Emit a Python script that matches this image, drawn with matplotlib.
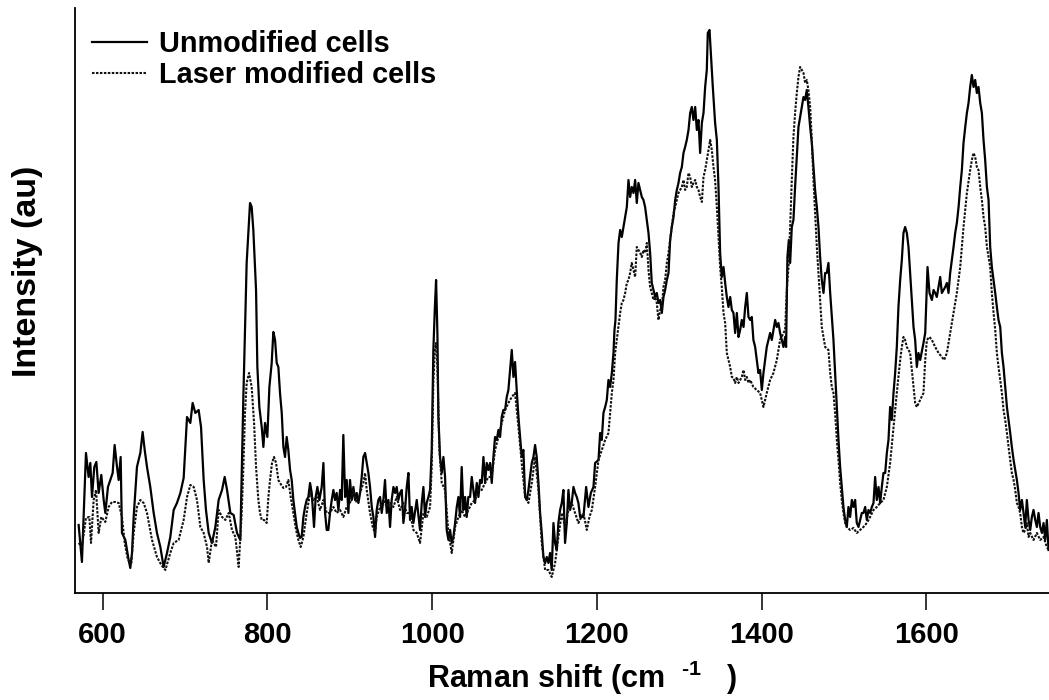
import matplotlib
matplotlib.use("Agg")
import matplotlib.pyplot as plt

plt.rcParams['font.family'] = ['Liberation Sans', 'DejaVu Sans']
plt.rcParams['font.weight'] = 'bold'
plt.rcParams['mathtext.fontset'] = 'custom'
plt.rcParams['mathtext.rm'] = 'Liberation Sans:bold'
plt.rcParams['mathtext.it'] = 'Liberation Sans:bold'
plt.rcParams['mathtext.bf'] = 'Liberation Sans:bold'

# ---- data: (Raman shift cm^-1, intensity au) ----
unmod_a = [(570.8,68),(574.8,31),(579.7,140),(582.9,116),(585.0,130),(587.0,96),(589.8,126),(592.3,131),(595.1,100),(598.3,118),
           (601.2,93),(603.2,80),(606.4,106),(609.3,113),(612.1,120),(614.5,148),(617.4,126),(619.4,113),(621.8,136),(623.4,60),
           (627.5,53),(631.5,33),(633.5,25),(635.6,40),(637.6,76),(641.6,126),(645.7,140),(648.5,161),(651.0,143),(653.8,126),
           (657.8,106),(661.9,80),(665.9,60),(670.0,46),(674.0,26),(678.1,40),(682.1,56),(686.2,83),(690.2,90),(694.3,100),
           (698.3,115),(702.4,176),(706.4,170),(709.2,190),(712.5,180),(716.5,183),(719.4,166),(722.6,113),(725.4,83),(728.7,60),
           (732.7,50),(736.8,66),(740.8,93),(744.9,103),(748.1,116),(751.0,103),(755.0,80),(759.0,78),(763.1,60),(767.1,53)]
unmod_b = [(770.8,196),(774.8,330),(778.9,390),(780.9,386),(782.9,363),(785.0,326),(786.2,303),(787.8,226),(790.2,186),(793.1,166),
           (795.1,146),(797.1,170),(799.9,156),(802.4,206),(805.2,230),(807.2,261),(809.3,253),(811.3,230),(813.3,226),(815.3,200),
           (817.4,180),(819.4,146),(821.4,136),(823.4,156),(825.4,143),(827.5,123),(829.5,113),(831.5,93),(833.5,80),(835.6,66),
           (837.6,60),(839.6,55),(841.6,56),(843.7,76),(845.7,86),(847.7,93),(849.7,96),(851.8,110),(853.8,100),(856.6,66),
           (858.6,96),(860.7,106),(863.1,93),(865.9,106),(868.0,130),(870.0,80),(872.0,63),(874.0,63),(876.0,80),(878.1,93),
           (880.1,103),(882.1,93),(884.1,100),(886.2,83),(888.2,103),(890.2,93),(892.2,158),(894.3,96),(896.3,113),(898.3,80),
           (900.3,113),(902.4,93),(904.4,106),(906.4,93),(908.4,100),(910.5,90),(912.5,100),(914.5,116),(916.5,136),(918.6,140),
           (920.6,130),(922.6,120),(924.6,106),(926.7,86),(928.7,76),(930.7,56),(932.7,83),(934.7,93),(936.8,96),(938.8,80),
           (940.8,93),(942.8,113),(944.9,80),(946.9,93),(948.9,66),(950.9,93),(953.0,106),(955.0,100),(957.0,106),(959.0,93),
           (961.1,100),(963.1,103),(965.1,70),(967.1,83),(969.2,106),(971.2,120),(973.2,73),(975.2,86),(977.3,70),(981.3,93),(985.3,63)]
unmod_c = [(987.4,90),(989.4,106),(991.4,76),(993.4,90),(995.5,96),(997.5,103),(999.5,143),(1001.5,243),(1003.2,283),(1004.8,313),
           (1006.4,260),(1007.6,176),(1009.6,136),(1011.7,120),(1013.7,136),(1015.7,116),(1017.7,63),(1019.8,53),(1021.8,63),(1023.8,50),
           (1025.8,56),(1027.9,70),(1029.9,86),(1031.9,96),(1033.9,76),(1035.9,126),(1038.0,83),(1040.0,96),(1042.0,76),(1044.0,96),
           (1046.1,96),(1048.1,116),(1050.1,103),(1052.1,90),(1054.2,110),(1056.2,96),(1058.2,113),(1060.2,110),(1062.3,136),(1064.3,110),
           (1066.3,130),(1068.3,123),(1070.4,130),(1072.4,110),(1074.4,136),(1076.4,156),(1078.5,153),(1080.5,163),(1082.5,156),(1084.5,176),
           (1086.5,183),(1088.6,183),(1090.6,196),(1092.6,203),(1094.6,223),(1096.7,243),(1098.7,216),(1100.7,231),(1102.7,203),(1104.8,176),
           (1106.8,156),(1108.8,136),(1110.8,143),(1112.9,96),(1114.9,93),(1116.9,103),(1118.9,116),(1121.0,130),(1123.0,136),(1125.0,148),
           (1127.0,136),(1129.1,110),(1131.1,80),(1133.1,60),(1135.1,36),(1137.2,30),(1139.2,36),(1141.2,30),(1143.2,40),(1145.2,23),
           (1147.3,70),(1149.3,50),(1151.3,43),(1153.3,70),(1155.4,83),(1157.4,90),(1159.4,103),(1161.4,50),(1163.5,70),(1165.5,103),
           (1167.5,83),(1169.5,90),(1171.6,106),(1173.6,100),(1175.6,96),(1177.6,90),(1179.7,76)]
unmod_d = [(1183.7,76),(1187.0,106),(1189.8,86),(1192.7,100),(1195.9,106),(1197.9,130),(1202.0,133),(1204.0,160),(1206.0,153),(1208.0,180),
           (1210.1,186),(1212.1,193),(1214.1,213),(1216.1,206),(1218.2,220),(1220.2,240),(1221.4,263),(1222.6,273),(1224.2,313),(1226.3,350),
           (1228.3,363),(1230.3,356),(1232.3,366),(1234.4,376),(1236.4,386),(1238.4,413),(1240.4,396),(1242.4,406),(1244.5,400),(1246.5,413),
           (1248.5,390),(1250.5,410),(1252.6,403),(1254.6,396),(1256.6,393),(1258.6,386),(1260.7,373),(1262.7,360),(1264.7,340),(1266.7,310),
           (1268.8,303),(1270.8,296),(1272.8,300),(1274.8,290),(1276.9,293),(1278.9,280),(1280.9,296),(1282.9,303),(1285.0,313),(1287.0,320),
           (1289.0,353),(1291.0,366),(1293.1,376),(1295.1,393),(1297.1,403),(1299.1,410),(1301.1,420),(1303.2,426),(1305.2,440),(1307.2,446),
           (1309.2,453),(1311.3,463),(1313.3,480),(1315.3,486),(1317.3,473),(1319.4,486),(1321.4,463),(1323.4,473),(1325.4,440),(1327.5,470),
           (1329.5,480),(1331.5,506),(1333.5,523),(1334.7,560),(1336.8,563),(1338.4,540),(1340.8,506),(1343.6,470),(1345.7,453),(1347.7,406),
           (1349.7,340),(1351.7,316),(1353.8,326),(1355.8,310),(1357.8,296),(1359.8,286),(1361.9,296),(1363.9,283),(1365.9,280),(1367.9,260),
           (1370.0,280),(1372.0,256),(1374.0,263),(1376.0,273),(1378.1,266),(1380.1,286),(1382.1,300),(1384.1,276),(1386.2,273)]
unmod_e = [(1388.1,276),(1390.1,253),(1392.2,246),(1394.2,233),(1396.2,220),(1398.2,223),(1400.3,203),(1402.3,220),(1404.3,233),(1406.3,246),
           (1408.4,253),(1410.4,260),(1412.4,253),(1414.4,263),(1416.5,273),(1418.5,266),(1420.5,270),(1422.5,260),(1424.6,253),(1426.6,246),
           (1428.6,256),(1429.8,246),(1431.4,336),(1433.1,353),(1434.7,330),(1436.7,366),(1438.7,373),(1440.7,406),(1442.8,436),(1444.8,466),
           (1446.8,476),(1448.8,486),(1450.9,496),(1452.9,493),(1454.9,503),(1456.9,486),(1459.0,466),(1461.0,450),(1463.0,426),(1465.0,403),
           (1467.1,386),(1469.1,366),(1471.1,336),(1473.1,313),(1475.2,300),(1477.2,320),(1479.2,320),(1481.2,330),(1483.3,300),(1485.3,276),
           (1487.3,253),(1489.3,220),(1491.4,186),(1493.4,153),(1495.4,126),(1497.4,106),(1499.4,86),(1501.5,73),(1503.5,66),(1505.5,86),
           (1507.5,76),(1509.6,93),(1511.6,86),(1513.6,93),(1515.6,70),(1517.7,66),(1519.7,73),(1521.7,80),(1523.7,80),(1525.8,86),
           (1527.8,73),(1529.8,83),(1531.8,80),(1533.9,86),(1535.9,90),(1537.9,116),(1539.9,93),(1542.0,106),(1544.0,90),(1546.0,106),
           (1548.0,120),(1550.1,120),(1552.1,140),(1554.1,153),(1556.1,186),(1558.1,173),(1560.2,200),(1562.2,220),(1564.2,246),(1566.2,286),
           (1568.3,313),(1570.3,333),(1572.3,360),(1574.3,366),(1576.4,360),(1578.4,346),(1580.4,320),(1582.4,293),(1584.5,266),(1586.5,253),
           (1588.5,226),(1590.5,240),(1592.6,233)]
unmod_f = [(1596.6,250),(1598.7,260),(1601.5,326),(1603.9,300),(1606.8,293),(1608.8,303),(1610.8,300),(1612.8,296),(1614.9,306),(1616.9,316),
           (1618.9,300),(1620.9,303),(1623.0,306),(1625.0,310),(1627.0,300),(1629.0,320),(1631.1,333),(1633.1,346),(1635.1,360),(1637.1,370),
           (1639.2,386),(1641.2,406),(1643.2,423),(1645.2,450),(1647.3,466),(1649.3,480),(1651.3,490),(1653.3,506),(1655.3,518),(1657.4,506),
           (1659.4,513),(1661.4,500),(1663.4,506),(1665.5,490),(1667.5,480),(1669.5,453),(1671.5,433),(1673.6,406),(1675.6,393),(1677.6,346),
           (1679.6,326),(1681.7,313),(1683.7,300),(1685.7,286),(1687.7,273),(1689.8,266),(1691.8,240),(1693.8,226),(1695.8,206),(1697.9,186),
           (1699.9,173),(1701.9,160),(1703.9,146),(1706.0,133),(1708.0,123),(1710.0,113),(1712.0,100),(1714.0,83),(1716.1,93),(1718.1,80),
           (1720.1,66),(1722.1,93),(1724.2,73),(1726.2,63),(1728.2,76),(1730.2,83),(1732.3,73),(1734.3,66),(1736.3,80),(1738.3,66),
           (1740.4,60),(1742.4,70),(1744.4,53),(1746.4,73),(1748.5,43)]

laser_a = [(570.8,50),(574.8,46),(579.7,75),(583.8,76),(585.8,50),(589.0,93),(591.9,103),(595.1,60),(598.3,76),(603.2,71),
           (607.2,86),(611.3,91),(615.3,91),(619.4,90),(623.4,76),(626.7,50),(630.7,33),(634.8,30),(637.6,60),(641.6,86),
           (645.7,93),(649.7,90),(653.8,80),(659.9,53),(665.9,36),(671.2,28),(676.1,23),(682.1,40),(686.2,50),(692.2,53),
           (698.3,73),(702.4,96),(706.4,108),(710.5,106),(714.5,93),(718.6,66),(722.6,60),(726.7,46),(728.7,30),(732.7,53),
           (737.6,46),(740.8,83),(744.9,76),(748.9,73),(753.0,80),(757.0,63),(761.1,56),(765.1,26)]
laser_b = [(768.8,80),(770.8,126),(772.8,180),(774.8,210),(777.7,220),(780.9,206),(783.8,170),(786.2,126),(789.0,93),(791.0,80),
           (793.1,73),(795.9,73),(799.1,70),(801.2,96),(803.2,113),(805.6,130),(808.0,136),(810.5,130),(813.3,113),(815.3,110),
           (819.4,105),(822.6,106),(825.4,113),(828.3,96),(831.5,80),(834.8,63),(837.6,53),(840.4,46),(843.7,56),(847.7,80),
           (851.8,100),(855.8,93),(859.9,96),(863.9,83),(868.0,93),(872.0,80),(876.0,80),(880.1,86),(884.1,80),(888.2,83),
           (892.2,76),(896.3,86),(900.3,90),(904.4,103),(908.4,90),(912.5,100),(916.5,110),(918.6,120),(920.6,103),(924.6,80),
           (927.9,66),(930.7,60),(932.7,76),(936.8,86),(940.8,93),(944.9,86),(948.9,90),(953.0,86),(957.0,96),(961.1,83),
           (965.1,90),(969.2,80),(973.2,80),(977.3,63),(981.3,60),(985.3,50)]
laser_c = [(989.4,80),(993.4,76),(997.5,86),(999.5,126),(1001.5,210),(1003.2,243),(1004.8,250),(1006.4,226),(1008.8,143),(1011.7,110),
           (1015.7,103),(1019.8,60),(1023.8,40),(1027.9,66),(1031.9,76),(1035.9,83),(1040.0,76),(1044.0,83),(1048.1,90),(1052.1,93),
           (1056.2,103),(1060.2,103),(1064.3,110),(1068.3,116),(1072.4,116),(1076.4,143),(1080.5,156),(1084.5,170),(1088.6,183),(1092.6,190),
           (1096.7,196),(1100.7,200),(1104.8,166),(1108.8,130),(1112.9,96),(1116.9,90),(1121.0,110),(1125.0,136),(1129.1,103),(1133.1,50),
           (1137.2,23),(1141.2,23),(1145.2,16),(1149.3,30),(1153.3,56),(1157.4,80),(1161.4,66),(1165.5,83),(1169.5,90),(1173.6,80),
           (1177.6,70)]
laser_d = [(1183.7,80),(1187.8,63),(1191.0,76),(1193.9,83),(1197.9,106),(1202.0,133),(1206.0,143),(1210.1,153),(1214.1,160),(1216.1,180),
           (1218.2,200),(1220.2,213),(1222.2,240),(1224.2,253),(1226.3,266),(1228.3,280),(1230.3,290),(1232.3,293),(1234.4,300),(1236.4,310),
           (1238.4,313),(1240.4,320),(1242.4,330),(1244.5,323),(1246.5,316),(1248.5,346),(1250.5,343),(1252.6,340),(1254.6,336),(1256.6,343),
           (1258.6,340),(1260.7,350),(1262.7,323),(1264.7,306),(1266.7,300),(1268.8,293),(1270.8,296),(1272.8,290),(1274.8,273),(1276.9,283),
           (1278.9,286),(1280.9,306),(1282.9,313),(1285.0,330),(1287.0,340),(1289.0,353),(1291.0,366),(1293.1,380),(1295.1,386),(1297.1,393),
           (1299.1,400),(1301.1,403),(1303.2,406),(1305.2,413),(1307.2,403),(1309.2,406),(1311.3,420),(1313.3,416),(1315.3,406),(1317.3,410),
           (1319.4,413),(1321.4,406),(1323.4,403),(1325.4,396),(1327.5,391),(1329.5,416),(1331.5,423),(1333.5,433),(1335.6,443),(1337.6,453),
           (1339.6,443),(1341.6,426),(1343.6,413),(1345.7,386),(1347.7,356),(1349.7,326),(1351.7,306),(1353.8,280),(1355.8,270),(1357.8,240),
           (1359.8,233),(1361.9,226),(1363.9,216),(1365.9,215),(1367.9,210),(1370.0,216),(1372.0,210),(1374.0,213),(1376.0,216),(1378.1,223),
           (1380.1,213),(1382.1,216),(1384.1,210)]
laser_e = [(1386.1,213),(1390.1,206),(1394.2,203),(1398.2,200),(1402.3,186),(1406.3,200),(1410.4,213),(1414.4,220),(1418.5,233),(1422.5,253),
           (1426.6,260),(1428.6,263),(1430.6,303),(1432.7,326),(1434.7,366),(1436.7,413),(1438.7,456),(1440.7,480),(1442.8,500),(1444.8,516),
           (1446.8,526),(1448.8,523),(1450.9,520),(1452.9,510),(1454.9,513),(1456.9,503),(1459.0,486),(1461.0,453),(1463.0,413),(1465.0,380),
           (1467.1,346),(1469.1,320),(1471.1,293),(1473.1,266),(1477.2,246),(1481.2,243),(1483.3,220),(1485.3,206),(1487.3,200),(1489.3,180),
           (1491.4,153),(1493.4,133),(1495.4,110),(1497.4,93),(1499.4,80),(1501.5,70),(1503.5,66),(1507.5,63),(1511.6,65),(1515.6,60),
           (1519.7,63),(1523.7,66),(1527.8,70),(1531.8,76),(1535.9,83),(1539.9,86),(1544.0,90),(1548.0,93),(1552.1,106),(1556.1,130),
           (1560.2,166),(1564.2,200),(1568.3,233),(1570.3,246),(1572.3,256),(1574.3,253),(1576.4,246),(1580.4,240),(1584.5,206),(1586.5,190),
           (1588.5,186)]
laser_f = [(1596.6,200),(1598.7,233),(1600.7,253),(1603.9,256),(1606.8,253),(1610.8,246),(1614.9,240),(1618.9,236),(1621.7,233),(1625.0,240),
           (1629.0,260),(1633.1,280),(1637.1,300),(1641.2,326),(1645.2,366),(1649.3,400),(1653.3,423),(1655.3,433),(1657.4,440),(1659.4,436),
           (1661.4,426),(1663.4,423),(1665.5,406),(1667.5,393),(1669.5,376),(1671.5,366),(1673.6,346),(1675.6,336),(1677.6,326),(1679.6,300),
           (1681.7,280),(1683.7,263),(1685.7,240),(1687.7,226),(1689.8,213),(1691.8,200),(1693.8,183),(1695.8,173),(1697.9,160),(1699.9,146),
           (1701.9,133),(1703.9,120),(1706.0,113),(1708.0,103),(1710.0,90),(1712.0,86),(1714.0,80),(1716.1,66),(1718.1,60),(1720.1,63),
           (1722.1,70),(1724.2,56),(1726.2,60),(1730.2,53),(1734.3,60),(1738.3,53),(1742.4,56),(1746.4,46),(1748.5,43)]

x_ticks = [600, 800, 1000, 1200, 1400, 1600]
series_labels = ["Unmodified cells", "Laser modified cells"]

unmod = unmod_a + unmod_b + unmod_c + unmod_d + unmod_e + unmod_f
laser = laser_a + laser_b + laser_c + laser_d + laser_e + laser_f
ux, uy = zip(*unmod)
lx, ly = zip(*laser)

fig = plt.figure(figsize=(10.49, 7.00), dpi=100)
ax = fig.add_axes([0.0712, 0.1529, 0.9288, 0.8357])

ax.plot(ux, uy, color='black', lw=1.6, label=series_labels[0])
ax.plot(lx, ly, color='#111111', lw=1.5, linestyle=(0, (1.2, 0.7)), label=series_labels[1])

ax.set_xlim(566, 1749)
ax.set_ylim(0, 585)
ax.set_xticks(x_ticks)
ax.set_yticks([])
for s in ['top', 'right']:
    ax.spines[s].set_visible(False)
for s in ['left', 'bottom']:
    ax.spines[s].set_linewidth(1.3)
ax.tick_params(axis='x', direction='out', length=12.5, width=1.1, pad=7.5, labelsize=21)

ax.set_xlabel('Raman shift (cm  $^{\\text{-1}}$   )', fontsize=22, fontweight='bold')
ax.xaxis.set_label_coords(0.521, -0.112)
ax.set_ylabel('Intensity (au)', fontsize=24.5, fontweight='bold')
ax.yaxis.set_label_coords(-0.033, 0.55)

leg = ax.legend(loc='upper left', bbox_to_anchor=(0.018, 0.963), frameon=False,
                prop={'size': 20.8, 'weight': 'bold'}, handlelength=1.9, handletextpad=0.42,
                labelspacing=0.12, borderpad=0, borderaxespad=0)

fig.savefig('out.png', dpi=100)
